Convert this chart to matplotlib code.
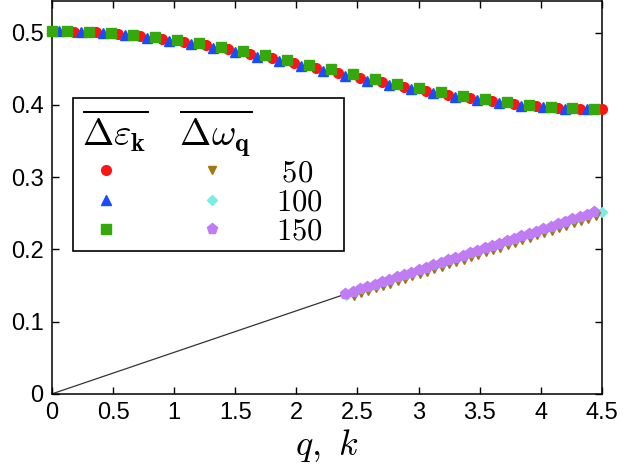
import matplotlib
matplotlib.use("Agg")
import matplotlib.pyplot as plt
from matplotlib.legend_handler import HandlerTuple
from matplotlib.path import Path

plt.rcParams['mathtext.fontset'] = 'cm'
plt.rcParams['font.family'] = ['Liberation Sans', 'DejaVu Sans']

# ---- upper curves: Delta epsilon_k  (L = 50, 100, 150) ----
q_eps50 = [0.18, 0.36, 0.54, 0.72, 0.90, 1.08, 1.26, 1.44, 1.62, 1.80, 1.98, 2.16, 2.34,
           2.52, 2.70, 2.88, 3.06, 3.24, 3.42, 3.60, 3.78, 3.96, 4.14, 4.32, 4.50]
eps50 = [0.5016, 0.5003, 0.4982, 0.4953, 0.4917, 0.4874, 0.4824, 0.4769, 0.4710, 0.4647,
         0.4581, 0.4514, 0.4446, 0.4379, 0.4315, 0.4254, 0.4196, 0.4142, 0.4092, 0.4048,
         0.4010, 0.3980, 0.3958, 0.3944, 0.3940]
q_eps100 = [0.06, 0.24, 0.42, 0.60, 0.78, 0.96, 1.14, 1.32, 1.50, 1.68, 1.86, 2.04, 2.22,
            2.40, 2.58, 2.76, 2.94, 3.12, 3.30, 3.48, 3.66, 3.84, 4.02, 4.20, 4.38]
eps100 = [0.50195, 0.5012, 0.4990, 0.4964, 0.4930, 0.4889, 0.4841, 0.4788, 0.4730, 0.4668,
          0.4603, 0.4536, 0.4469, 0.4401, 0.4337, 0.4275, 0.4215, 0.4160, 0.4109, 0.4063,
          0.4023, 0.3991, 0.3966, 0.3950, 0.3942]
q_eps150 = [0.00, 0.12, 0.30, 0.48, 0.66, 0.84, 1.02, 1.20, 1.38, 1.56, 1.74, 1.92, 2.10,
            2.28, 2.46, 2.64, 2.82, 3.00, 3.18, 3.36, 3.54, 3.72, 3.90, 4.08, 4.26, 4.44]
eps150 = [0.5020, 0.5018, 0.5008, 0.4997, 0.4973, 0.4942, 0.4903, 0.4858, 0.4806, 0.4750,
          0.4689, 0.4625, 0.4559, 0.4491, 0.4424, 0.4359, 0.4294, 0.4233, 0.4175, 0.4123,
          0.4076, 0.4036, 0.4003, 0.3976, 0.3957, 0.3945]

# ---- lower curves: Delta omega_q ----
q_om150 = [2.40, 2.46, 2.52, 2.58, 2.64, 2.70, 2.76, 2.82, 2.88, 2.94, 3.00, 3.06, 3.12,
           3.18, 3.24, 3.30, 3.36, 3.42, 3.48, 3.54, 3.60, 3.66, 3.72, 3.78, 3.84, 3.90,
           3.96, 4.02, 4.08, 4.14, 4.20, 4.26, 4.32, 4.38, 4.44]
om150 = [0.1380, 0.1413, 0.1447, 0.1480, 0.1513, 0.1547, 0.1580, 0.1614, 0.1647, 0.1680,
         0.1714, 0.1747, 0.1780, 0.1814, 0.1847, 0.1880, 0.1914, 0.1947, 0.1980, 0.2014,
         0.2047, 0.2081, 0.2114, 0.2147, 0.2181, 0.2214, 0.2247, 0.2281, 0.2314, 0.2347,
         0.2381, 0.2414, 0.2448, 0.2481, 0.2514]
q_om100 = [2.41, 2.47, 2.53, 2.59, 2.65, 2.71, 2.77, 2.83, 2.89, 2.95, 3.01, 3.07, 3.13,
           3.19, 3.25, 3.31, 3.37, 3.43, 3.49, 3.55, 3.61, 3.67, 3.73, 3.79, 3.85, 3.91,
           3.97, 4.03, 4.09, 4.15, 4.21, 4.27, 4.33, 4.39, 4.45, 4.50]
om100 = [0.1370, 0.1403, 0.1437, 0.1470, 0.1503, 0.1537, 0.1570, 0.1604, 0.1637, 0.1670,
         0.1704, 0.1737, 0.1770, 0.1804, 0.1837, 0.1870, 0.1904, 0.1937, 0.1970, 0.2004,
         0.2037, 0.2071, 0.2104, 0.2137, 0.2171, 0.2204, 0.2237, 0.2271, 0.2304, 0.2337,
         0.2371, 0.2404, 0.2438, 0.2471, 0.2504, 0.2520]
q_om50 = [2.47, 2.53, 2.59, 2.65, 2.71, 2.77, 2.83, 2.89, 2.95, 3.01, 3.07, 3.13, 3.19,
          3.25, 3.31, 3.37, 3.43, 3.49, 3.55, 3.61, 3.67, 3.73, 3.79, 3.85, 3.91, 3.97,
          4.03, 4.09, 4.15, 4.21, 4.27, 4.33, 4.39, 4.45]
om50 = [0.1359, 0.1392, 0.1426, 0.1459, 0.1492, 0.1526, 0.1559, 0.1592, 0.1626, 0.1659,
        0.1692, 0.1726, 0.1759, 0.1793, 0.1826, 0.1859, 0.1893, 0.1926, 0.1959, 0.1993,
        0.2026, 0.2059, 0.2093, 0.2126, 0.2159, 0.2193, 0.2226, 0.2259, 0.2293, 0.2326,
        0.2360, 0.2393, 0.2426, 0.2460]
# thin line from origin to the start of the omega data
q_line = [0.0, 2.40]
om_line = [0.0, 0.138]

sizes = ['50', '100', '150']
x_ticks = [0, 0.5, 1, 1.5, 2, 2.5, 3, 3.5, 4, 4.5]
x_ticklabels = ['0', '0.5', '1', '1.5', '2', '2.5', '3', '3.5', '4', '4.5']
y_ticks = [0, 0.1, 0.2, 0.3, 0.4, 0.5]
y_ticklabels = ['0', '0.1', '0.2', '0.3', '0.4', '0.5']

c_red = '#ff1414'
c_blue = '#1a4cff'
c_green = '#35a90c'
c_brown = '#a07812'
c_cyan = '#78eee4'
c_purple = '#c07cf2'

fig = plt.figure(figsize=(6.23, 4.65), dpi=100)
ax = fig.add_axes([0.0835, 0.153, 0.8825, 0.845])

ax.plot(q_line, om_line, color='#333333', lw=0.9, zorder=2)

kw = dict(ls='none', clip_on=False)
h_c, = ax.plot(q_eps50, eps50, marker='o', ms=7, color=c_red, mec=c_red, zorder=3, **kw)
h_t, = ax.plot(q_eps100, eps100, marker='^', ms=6.5, color=c_blue, mec=c_blue, zorder=3.1, **kw)
h_s, = ax.plot(q_eps150, eps150, marker='s', ms=6.5, color=c_green, mec=c_green, zorder=3.2, **kw)

h_dm, = ax.plot(q_om100, om100, marker='D', ms=5, color=c_cyan, mec=c_cyan, zorder=3, **kw)
h_d, = ax.plot(q_om50, om50, marker='v', ms=5.5, color=c_brown, mec=c_brown, zorder=3.1, **kw)
h_p, = ax.plot(q_om150, om150, marker='p', ms=8, color=c_purple, mec=c_purple, zorder=3.2, **kw)

ax.set_xlim(0, 4.5)
ax.set_ylim(0, 0.544)
ax.set_xticks(x_ticks)
ax.set_xticklabels(x_ticklabels)
ax.set_yticks(y_ticks)
ax.set_yticklabels(y_ticklabels)
ax.tick_params(direction='in', top=True, right=True, length=5, width=1.0,
               labelsize=17, pad=6)
for s in ax.spines.values():
    s.set_linewidth(1.1)

ax.set_xlabel(r'$q,\ k$', fontsize=26, labelpad=2)

labels = [r'$\:50$', r'$100$', r'$150$']
leg = ax.legend([(h_c, h_d), (h_t, h_dm), (h_s, h_p)], labels,
                handler_map={tuple: HandlerTuple(ndivide=None, pad=1.88)},
                title=r'$\overline{\Delta\varepsilon_{\mathbf{k}}}\quad\overline{\Delta\omega_{\mathbf{q}}}$',
                title_fontsize=27, fontsize=22, loc='upper left',
                bbox_to_anchor=(0.038, 0.753), borderaxespad=0.0,
                frameon=True, fancybox=False,
                framealpha=1, edgecolor='black', handlelength=5.05,
                handletextpad=1.30, labelspacing=-0.03, borderpad=0.3,
                alignment='left')


class WideSquare:
    """Square frame, a little wider on the right and trimmed at the bottom."""
    def __call__(self, x0, y0, width, height, mutation_size):
        ext_r = 0.39 * mutation_size
        cut_b = 0.16 * mutation_size
        x1 = x0 + width + ext_r
        yb = y0 + cut_b
        y1 = y0 + height
        return Path([(x0, yb), (x1, yb), (x1, y1), (x0, y1), (x0, yb)],
                    [Path.MOVETO, Path.LINETO, Path.LINETO, Path.LINETO, Path.CLOSEPOLY])


frame = leg.get_frame()
frame.set_boxstyle(WideSquare())
frame.set_linewidth(1.2)

fig.savefig('out.png', dpi=100)
